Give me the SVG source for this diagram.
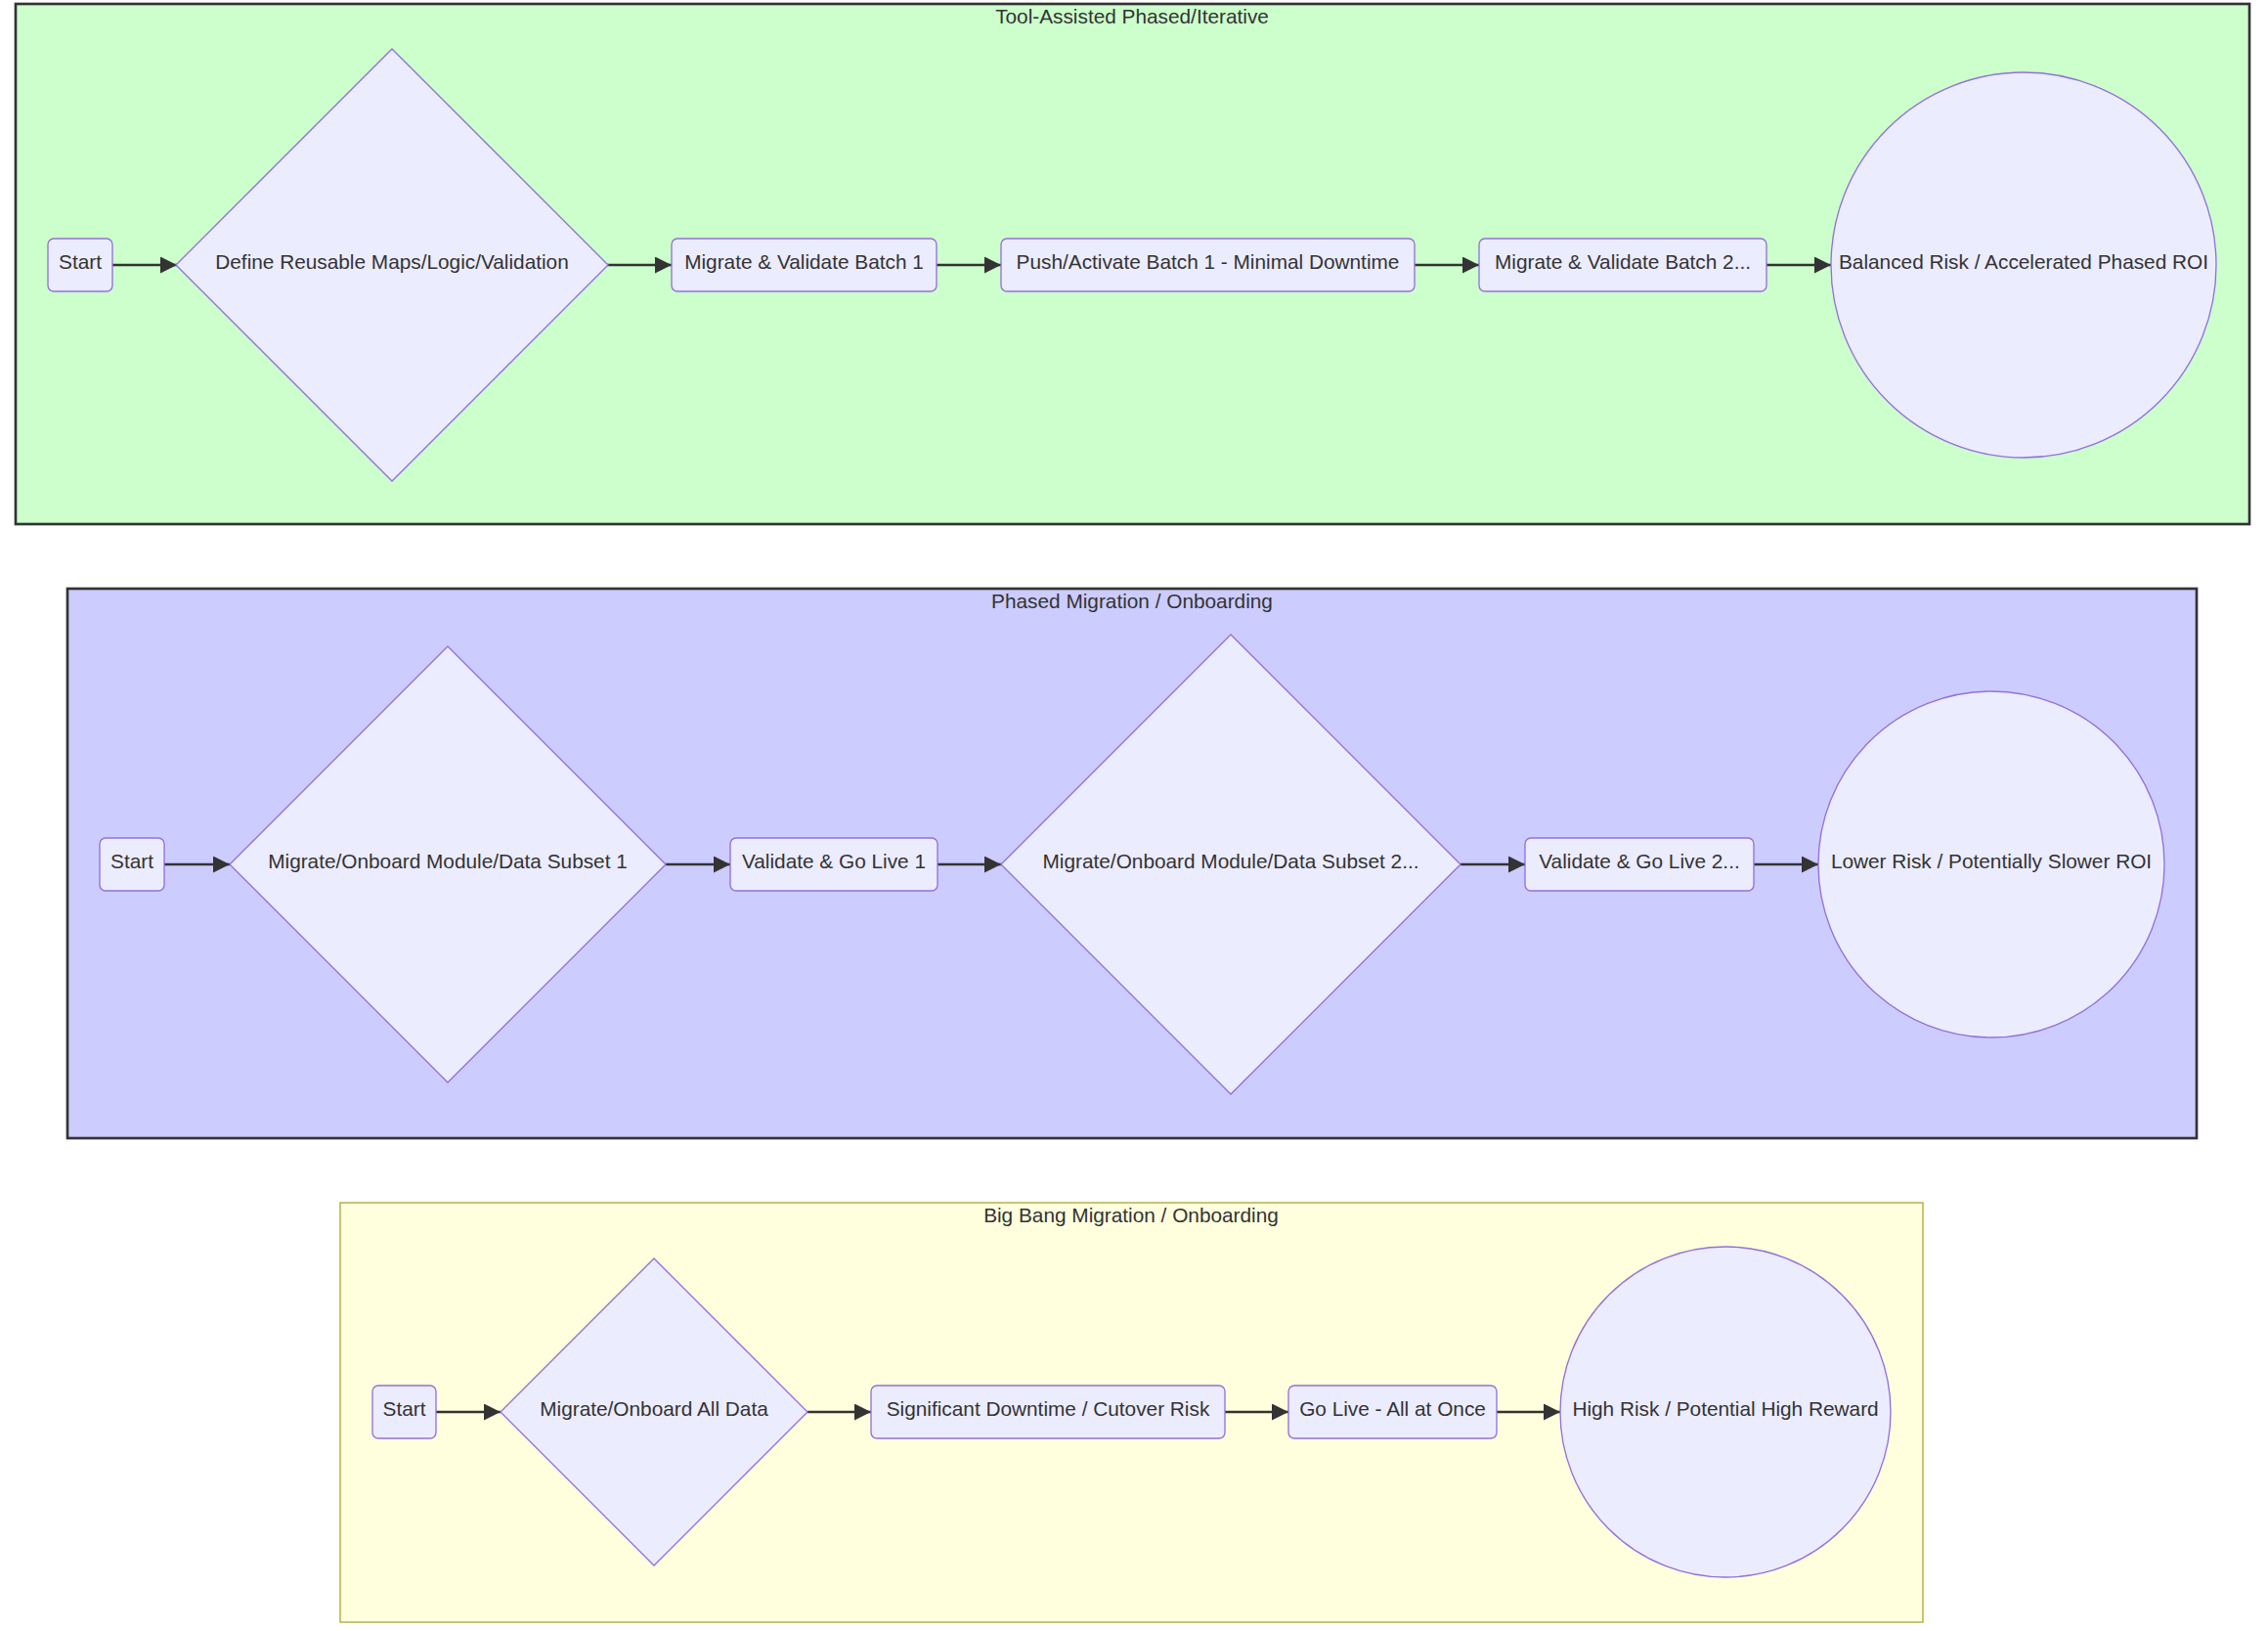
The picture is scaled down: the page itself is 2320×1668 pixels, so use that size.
<svg xmlns="http://www.w3.org/2000/svg" width="2320" height="1668" viewBox="0 0 2320 1668">
<style>
.node rect, .node polygon, .node circle { fill: #ECECFF; stroke: #9370DB; stroke-width: 1.33; }
.lbl { font-family: "Liberation Sans", Arial, sans-serif; font-size: 20.8px; fill: #333333; text-anchor: middle; }
.ctitle { font-family: "Liberation Sans", Arial, sans-serif; font-size: 20.8px; fill: #333333; text-anchor: middle; }
.edge { stroke: #333333; stroke-width: 2.67; fill: none; marker-end: url(#arrow); }
</style>
<defs>
<marker id="arrow" viewBox="0 0 10 10" refX="10" refY="5" markerUnits="userSpaceOnUse" markerWidth="17" markerHeight="17" orient="auto">
<path d="M0,0 L10,5 L0,10 z" fill="#333333"/>
</marker>
</defs>
<rect width="2320" height="1668" fill="#ffffff"/>

<g id="cluster-tool">
<rect x="16" y="4" width="2285" height="532" fill="#ccffcc" stroke="#333333" stroke-width="2.67"/>
<text class="ctitle" x="1158" y="24">Tool-Assisted Phased/Iterative</text>
</g>
<g id="cluster-phased">
<rect x="69" y="602" width="2178" height="562" fill="#ccccff" stroke="#333333" stroke-width="2.67"/>
<text class="ctitle" x="1158" y="622">Phased Migration / Onboarding</text>
</g>
<g id="cluster-bigbang">
<rect x="348" y="1230" width="1619" height="429" fill="#ffffde" stroke="#aaaa33" stroke-width="1.33"/>
<text class="ctitle" x="1157" y="1250">Big Bang Migration / Onboarding</text>
</g>

<g id="connectors">
<line class="edge" x1="115" y1="271" x2="181" y2="271"/>
<line class="edge" x1="621" y1="271" x2="687" y2="271"/>
<line class="edge" x1="958" y1="271" x2="1024" y2="271"/>
<line class="edge" x1="1447" y1="271" x2="1513" y2="271"/>
<line class="edge" x1="1807" y1="271" x2="1873" y2="271"/>

<line class="edge" x1="168" y1="884" x2="235" y2="884"/>
<line class="edge" x1="681" y1="884" x2="747" y2="884"/>
<line class="edge" x1="959" y1="884" x2="1024" y2="884"/>
<line class="edge" x1="1494" y1="884" x2="1560" y2="884"/>
<line class="edge" x1="1794" y1="884" x2="1860" y2="884"/>

<line class="edge" x1="446" y1="1444" x2="512" y2="1444"/>
<line class="edge" x1="826" y1="1444" x2="891" y2="1444"/>
<line class="edge" x1="1253" y1="1444" x2="1318" y2="1444"/>
<line class="edge" x1="1531" y1="1444" x2="1596" y2="1444"/>
</g>

<g id="t-start" class="node"><rect x="49" y="244" width="66" height="54" rx="6"/><text class="lbl" x="82" y="275">Start</text></g>
<g id="t-define" class="node"><polygon points="401,50 622,271 401,492 180,271"/><text class="lbl" x="401" y="275">Define Reusable Maps/Logic/Validation</text></g>
<g id="t-batch1" class="node"><rect x="687" y="244" width="271" height="54" rx="6"/><text class="lbl" x="822.5" y="275">Migrate &amp; Validate Batch 1</text></g>
<g id="t-push" class="node"><rect x="1024" y="244" width="423" height="54" rx="6"/><text class="lbl" x="1235.5" y="275">Push/Activate Batch 1 - Minimal Downtime</text></g>
<g id="t-batch2" class="node"><rect x="1513" y="244" width="294" height="54" rx="6"/><text class="lbl" x="1660" y="275">Migrate &amp; Validate Batch 2...</text></g>
<g id="t-result" class="node"><circle cx="2070" cy="271" r="197"/><text class="lbl" x="2070" y="275">Balanced Risk / Accelerated Phased ROI</text></g>

<g id="p-start" class="node"><rect x="102" y="857" width="66" height="54" rx="6"/><text class="lbl" x="135" y="888">Start</text></g>
<g id="p-sub1" class="node"><polygon points="458,661 681,884 458,1107 235,884"/><text class="lbl" x="458" y="888">Migrate/Onboard Module/Data Subset 1</text></g>
<g id="p-live1" class="node"><rect x="747" y="857" width="212" height="54" rx="6"/><text class="lbl" x="853" y="888">Validate &amp; Go Live 1</text></g>
<g id="p-sub2" class="node"><polygon points="1259,649 1494,884 1259,1119 1024,884"/><text class="lbl" x="1259" y="888">Migrate/Onboard Module/Data Subset 2...</text></g>
<g id="p-live2" class="node"><rect x="1560" y="857" width="234" height="54" rx="6"/><text class="lbl" x="1677" y="888">Validate &amp; Go Live 2...</text></g>
<g id="p-result" class="node"><circle cx="2037" cy="884" r="177"/><text class="lbl" x="2037" y="888">Lower Risk / Potentially Slower ROI</text></g>

<g id="b-start" class="node"><rect x="381" y="1417" width="65" height="54" rx="6"/><text class="lbl" x="413.5" y="1448">Start</text></g>
<g id="b-all" class="node"><polygon points="669,1287 826,1444 669,1601 512,1444"/><text class="lbl" x="669" y="1448">Migrate/Onboard All Data</text></g>
<g id="b-downtime" class="node"><rect x="891" y="1417" width="362" height="54" rx="6"/><text class="lbl" x="1072" y="1448">Significant Downtime / Cutover Risk</text></g>
<g id="b-golive" class="node"><rect x="1318" y="1417" width="213" height="54" rx="6"/><text class="lbl" x="1424.5" y="1448">Go Live - All at Once</text></g>
<g id="b-result" class="node"><circle cx="1765" cy="1444" r="169"/><text class="lbl" x="1765" y="1448">High Risk / Potential High Reward</text></g>
</svg>
